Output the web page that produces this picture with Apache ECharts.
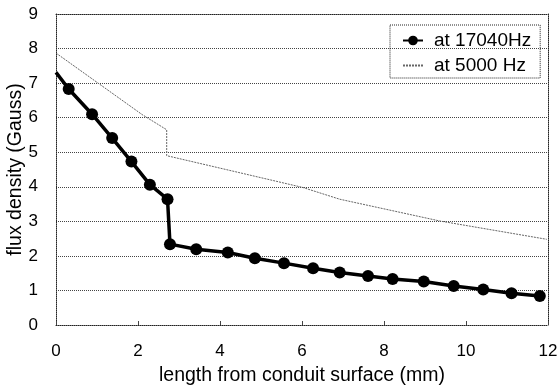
<!DOCTYPE html>
<html>
<head>
<meta charset="utf-8">
<script src="https://cdn.jsdelivr.net/npm/echarts@6/dist/echarts.min.js"></script>
<style>html,body{margin:0;padding:0;background:#fff}#c{width:558px;height:390px}</style>
</head>
<body>
<div id="c"></div>
<script>
const seriesNames = ['at 17040Hz', 'at 5000 Hz'];
const x17040 = [0, 0.31, 0.88, 1.37, 1.84, 2.29, 2.72, 2.78, 3.42, 4.19, 4.85, 5.56, 6.27, 6.92, 7.61, 8.21, 8.97, 9.70, 10.42, 11.11, 11.80];
const y17040 = [7.31, 6.83, 6.10, 5.41, 4.73, 4.06, 3.64, 2.34, 2.19, 2.10, 1.93, 1.79, 1.64, 1.52, 1.42, 1.33, 1.26, 1.13, 1.03, 0.92, 0.84];
const x5000 = [0, 2.10, 2.70, 2.70, 6.02, 6.92, 9.36, 11.97];
const y5000 = [7.87, 6.09, 5.65, 4.90, 3.98, 3.64, 3.01, 2.48];
const xTicks = [0, 2, 4, 6, 8, 10, 12];
const yTicks = [0, 1, 2, 3, 4, 5, 6, 7, 8, 9];

const font = 'Liberation Sans, Arial, sans-serif';
const blackData = x17040.map((x, i) => i === 0 ? {value: [x, y17040[i]], symbolSize: 0} : [x, y17040[i]]);
const grayData = x5000.map((x, i) => [x, y5000[i]]);

const chart = echarts.init(document.getElementById('c'));
chart.setOption({
  animation: false,
  backgroundColor: '#fff',
  grid: {left: 56, right: 10, top: 14, bottom: 65, containLabel: false, outerBoundsMode: 'none'},
  legend: {
    orient: 'vertical',
    left: 390, top: 25,
    padding: [6, 9, 3, 12],
    itemGap: 6,
    itemWidth: 20,
    itemHeight: 12,
    borderColor: '#222', borderWidth: 1, borderType: 'dotted',
    textStyle: {fontFamily: font, fontSize: 19, color: '#000', padding: [0, 0, 0, 6]},
    data: [
      {name: seriesNames[0]},
      {name: seriesNames[1], itemStyle: {color: 'rgba(0,0,0,0)', borderWidth: 0}}
    ]
  },
  xAxis: [{
    type: 'value', min: xTicks[0], max: xTicks[xTicks.length - 1], interval: 2,
    name: 'length from conduit surface (mm)', nameLocation: 'middle', nameGap: 41,
    nameMoveOverlap: false,
    nameTextStyle: {fontFamily: font, fontSize: 19.5, color: '#000'},
    axisLine: {lineStyle: {color: '#222', type: 'dotted', width: 1}},
    axisTick: {inside: true, length: 4, lineStyle: {color: '#444'}},
    axisLabel: {fontFamily: font, fontSize: 17, color: '#000', margin: 18},
    splitLine: {show: false}
  }, {
    type: 'value', position: 'top', min: 0, max: 12,
    axisLine: {show: true, onZero: false, lineStyle: {color: '#222', type: 'dotted'}},
    axisTick: {show: false}, axisLabel: {show: false}, splitLine: {show: false}
  }],
  yAxis: [{
    type: 'value', min: yTicks[0], max: yTicks[yTicks.length - 1], interval: 1,
    name: 'flux density (Gauss)', nameLocation: 'middle', nameGap: 30,
    nameMoveOverlap: false,
    nameTextStyle: {fontFamily: font, fontSize: 19.5, color: '#000'},
    axisLine: {show: true, lineStyle: {color: '#222', type: 'dotted', width: 1}},
    axisTick: {show: false},
    axisLabel: {fontFamily: font, fontSize: 17, color: '#000', margin: 18},
    splitLine: {lineStyle: {color: '#444', type: 'dotted', width: 1}}
  }, {
    type: 'value', position: 'right', min: 0, max: 9,
    axisLine: {show: true, onZero: false, lineStyle: {color: '#222', type: 'dotted'}},
    axisTick: {show: false}, axisLabel: {show: false}, splitLine: {show: false}
  }],
  series: [{
    name: seriesNames[0], type: 'line', data: blackData,
    symbol: 'circle', symbolSize: 12,
    itemStyle: {color: '#000'},
    lineStyle: {color: '#000', width: 3.5},
    z: 3
  }, {
    name: seriesNames[1], type: 'line', data: grayData,
    symbol: 'none',
    itemStyle: {color: '#777'},
    lineStyle: {color: '#666', width: 1, type: [2, 1]},
    z: 2
  }]
});
</script>
</body>
</html>
